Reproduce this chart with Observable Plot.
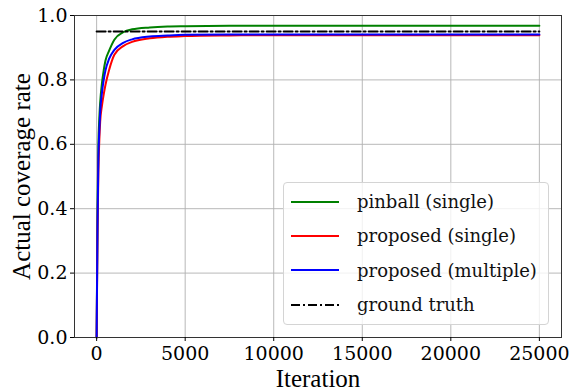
<!DOCTYPE html>
<html><head><meta charset="utf-8">
<script src="https://cdn.jsdelivr.net/npm/d3@7"></script>
<script src="https://cdn.jsdelivr.net/npm/@observablehq/plot@0.6"></script>
<style>
body{margin:0;background:#fff;}
#wrap{position:relative;width:571px;height:392px;font-family:'DejaVu Serif';overflow:hidden;}
#legend{position:absolute;left:283px;top:182px;width:264px;height:141px;border:1px solid #d4d4d4;border-radius:4px;background:rgba(255,255,255,0.8);}
.row{position:absolute;left:0;height:34px;display:flex;align-items:center;font-size:18px;color:#111;white-space:nowrap;font-family:'DejaVu Serif';}
.row svg{margin-left:7px;margin-right:18px;}
</style></head><body><div id="wrap"></div>
<script>
const iterations = [0, 25, 50, 100, 150, 200, 300, 400, 500, 700, 1000, 1500, 2000, 3000, 4000, 5000, 7500, 10000, 15000, 20000, 25000];
const pinballSingle   = [0, 0.20, 0.40, 0.60, 0.68, 0.73, 0.79, 0.83, 0.86, 0.89, 0.925, 0.948, 0.957, 0.963, 0.966, 0.967, 0.968, 0.968, 0.968, 0.968, 0.968];
const proposedSingle  = [0, 0.17, 0.33, 0.52, 0.61, 0.67, 0.72, 0.755, 0.785, 0.83, 0.878, 0.905, 0.918, 0.929, 0.934, 0.936, 0.938, 0.939, 0.939, 0.939, 0.939];
const proposedMultiple= [0, 0.18, 0.35, 0.56, 0.64, 0.70, 0.76, 0.80, 0.83, 0.865, 0.893, 0.915, 0.926, 0.935, 0.938, 0.940, 0.941, 0.941, 0.941, 0.941, 0.941];
const groundTruthValue = 0.95;
const groundTruthRange = [0, 25000];
const seriesNames = ["pinball (single)", "proposed (single)", "proposed (multiple)", "ground truth"];
const seriesColors = ["#008000", "#ff0000", "#0000ff", "#000000"];
const xTicks = [0, 5000, 10000, 15000, 20000, 25000];
const yTicks = [0, 0.2, 0.4, 0.6, 0.8, 1.0];

const seriesValues = [pinballSingle, proposedSingle, proposedMultiple];
const rows = [];
seriesValues.forEach((vals, s) => iterations.forEach((it, i) => rows.push({series: seriesNames[s], x: it, y: vals[i]})));
const gt = groundTruthRange.map(x => ({x, y: groundTruthValue}));
const tickFont = "DejaVu Serif";
const titleFont = "serif";
const dash = "9,3,2,3";

const chart = Plot.plot({
  width: 571, height: 392,
  marginLeft: 74, marginRight: 10, marginTop: 15, marginBottom: 55,
  style: {fontFamily: tickFont, fontSize: "19px", background: "white", color: "#000"},
  x: {domain: [-1250, 26250]},
  y: {domain: [0, 1]},
  marks: [
    Plot.gridX(xTicks, {stroke: "#b0b0b0", strokeOpacity: 1, strokeWidth: 0.9}),
    Plot.gridY(yTicks, {stroke: "#b0b0b0", strokeOpacity: 1, strokeWidth: 0.9}),
    ...seriesNames.slice(0, 3).map((name, s) =>
      Plot.line(rows.filter(d => d.series === name), {x: "x", y: "y", stroke: seriesColors[s], strokeWidth: 2, curve: "monotone-x"})),
    Plot.line(gt, {x: "x", y: "y", stroke: "#000", strokeWidth: 2, strokeDasharray: dash}),
    Plot.frame({stroke: "#333", strokeWidth: 1}),
    Plot.axisX({ticks: xTicks, tickFormat: d => String(d), tickSize: 4, tickPadding: 5, fontSize: 19, fontFamily: tickFont, fontVariant: "normal", label: null}),
    Plot.axisY({ticks: yTicks, tickFormat: d3.format(".1f"), tickSize: 4, tickPadding: 3, fontSize: 19, fontFamily: tickFont, fontVariant: "normal", label: null}),
    Plot.text(["Iteration"], {text: d => d, frameAnchor: "bottom", lineAnchor: "middle", textAnchor: "middle", dy: 41, fontSize: 25, fontFamily: titleFont}),
    Plot.text(["Actual coverage rate"], {text: d => d, frameAnchor: "left", textAnchor: "middle", lineAnchor: "middle", rotate: -90, dx: -53, fontSize: 25, fontFamily: titleFont})
  ]
});
const wrap = document.getElementById("wrap");
wrap.appendChild(chart);

const legend = document.createElement("div");
legend.id = "legend";
seriesNames.forEach((name, i) => {
  const row = document.createElement("div");
  row.className = "row";
  row.style.top = (1.5 + i * 34.4) + "px";
  const isGT = i === 3;
  row.innerHTML = `<svg width="48" height="6"><line x1="0" y1="3" x2="48" y2="3" stroke="${seriesColors[i]}" stroke-width="2" ${isGT ? `stroke-dasharray="${dash}"` : ""}/></svg><span>${name}</span>`;
  legend.appendChild(row);
});
wrap.appendChild(legend);
</script></body></html>
